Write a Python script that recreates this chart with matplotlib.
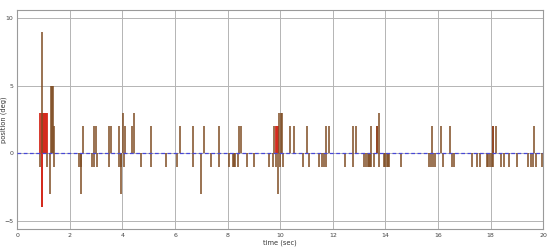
import matplotlib
matplotlib.use("Agg")
import matplotlib.pyplot as plt

# ---- data ----
brown_t = [0.88, 0.95, 1.12, 1.26, 1.27, 1.31, 1.36, 1.41, 1.41,
           2.34, 2.42, 2.42, 2.50,
           2.84, 2.90, 2.90, 2.99, 3.03,
           3.47, 3.47, 3.56,
           3.85, 3.88, 3.96, 3.96, 4.01, 4.04, 4.08,
           4.35, 4.44, 4.71, 5.10, 5.10, 5.66,
           6.08, 6.19, 6.69, 6.70, 6.97, 7.10, 7.35, 7.68, 7.68,
           8.06, 8.19, 8.24, 8.28, 8.38, 8.43, 8.49,
           8.72, 9.00, 9.57, 9.73, 9.75,
           9.84, 9.90, 9.98, 10.10, 9.96, 10.02, 10.08,
           10.38, 10.53, 10.87, 11.02, 11.08,
           11.48, 11.57, 11.66, 11.76, 11.76, 11.84,
           12.45, 12.78, 12.78, 12.90,
           13.19, 13.27, 13.32, 13.36, 13.40, 13.44, 13.45, 13.57,
           13.68, 13.75, 13.74,
           13.95, 14.00, 14.05, 14.10, 14.15,
           14.60,
           15.67, 15.74, 15.79, 15.82, 15.89,
           16.12, 16.20, 16.46, 16.53, 16.62,
           17.30, 17.50, 17.60,
           17.85, 17.91, 17.98, 18.04, 18.11, 18.08, 18.19,
           18.38, 18.53, 18.72, 19.01,
           19.44, 19.52, 19.62, 19.66, 19.72, 19.97]
brown_v = [-1, 9, -1, -3, 5, 5, 5, 2, -1,
           -1, -3, -1, 2,
           -1, 2, -1, 2, -1,
           2, -1, 2,
           -1, 2, -3, -1, 3, -1, 2,
           2, 3, -1, 2, -1, -1,
           -1, 2, 2, -1, -3, 2, -1, 2, -1,
           -1, -1, -1, -1, -1, 2, 2,
           -1, -1, -1, -1, 2,
           -1, -3, -1, -1, 3, 3, 3,
           2, 2, -1, 2, -1,
           -1, -1, -1, 2, -1, 2,
           -1, 2, -1, 2,
           -1, -1, -1, -1, -1, -1, 2, -1,
           2, 3, -1,
           -1, -1, -1, -1, -1,
           -1,
           -1, -1, 2, -1, -1,
           2, -1, 2, -1, -1,
           -1, -1, -1,
           -1, -1, -1, -1, -1, 2, 2,
           -1, -1, -1, -1,
           -1, -1, -1, 2, -1, -1]

red_t = [0.88, 0.92, 0.96, 1.00, 1.04, 1.08, 1.12, 0.93, 0.95,
         9.84, 9.88, 9.92, 13.68, 18.08]
red_v = [3, 3, 3, 3, 3, 3, 3, -4, -4,
         2, 2, 2, 2, 2]

ref_t = [0, 20]
ref_v = [0, 0]

x_ticks = [0, 2, 4, 6, 8, 10, 12, 14, 16, 18, 20]
y_ticks = [-5, 0, 5, 10]

# ---- figure ----
fig = plt.figure(figsize=(5.5, 2.52), dpi=100)
ax = fig.add_axes([0.0315, 0.0925, 0.956, 0.868])

ax.vlines(red_t, 0, red_v, colors="#d42a1c", linewidth=1.3, zorder=3)
ax.vlines(brown_t, 0, brown_v, colors="#7e4c22", linewidth=1.1, zorder=4)
ax.plot(ref_t, ref_v, color="#4848d8", linestyle=(0, (3, 2)), linewidth=0.9, zorder=5)

ax.set_xlim(0, 20)
ax.set_ylim(-5.57, 10.6)
ax.set_xticks(x_ticks)
ax.set_yticks(y_ticks)
ax.grid(True, color="#b4b4b4", linewidth=0.7)
ax.set_axisbelow(True)
ax.tick_params(labelsize=4.5, length=0, pad=3, colors="#444444")
for s in ax.spines.values():
    s.set_color("#9a9a9a")
    s.set_linewidth(0.8)

ax.set_xlabel("time (sec)", fontsize=4.8, labelpad=1.5, color="#333333")
ax.set_ylabel("position (deg)", fontsize=4.8, color="#333333")
ax.yaxis.set_label_coords(-0.019, 0.5)

fig.savefig("out.png", dpi=100)
